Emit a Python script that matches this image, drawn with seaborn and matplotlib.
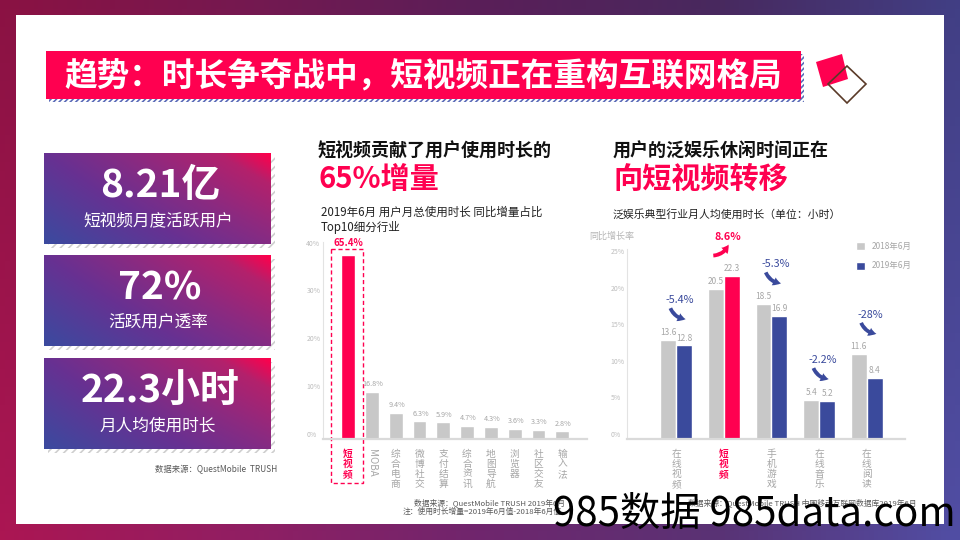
import numpy as np
import pandas as pd
import matplotlib.pyplot as plt
import seaborn as sns
from matplotlib.patches import Rectangle, Polygon
from matplotlib.colors import LinearSegmentedColormap

# 左图：2019年6月 用户月总使用时长 同比增量占比 Top10
share_cats = ['短视频', 'MOBA', '综合电商', '微博社交', '支付结算',
              '综合资讯', '地图导航', '浏览器', '社区交友', '输入法']
share_vals = [65.4, 16.8, 9.4, 6.3, 5.9, 4.7, 4.3, 3.6, 3.3, 2.8]
share_ticks = ['0%', '10%', '20%', '30%', '40%']

# 右图：泛娱乐典型行业月人均使用时长（小时）
ent_cats = ['在线视频', '短视频', '手机游戏', '在线音乐', '在线阅读']
hours_2018 = [13.6, 20.5, 18.5, 5.4, 11.6]
hours_2019 = [12.8, 22.3, 16.9, 5.2, 8.4]
growth = ['-5.4%', '8.6%', '-5.3%', '-2.2%', '-28%']
years = ['2018年6月', '2019年6月']
hour_ticks = ['0%', '5%', '10%', '15%', '20%', '25%']

# 左侧指标卡
kpi_values = ['8.21亿', '72%', '22.3小时']
kpi_names = ['短视频月度活跃用户', '活跃用户透率', '月人均使用时长']

RED = '#ff0050'
BLUE = '#3a4a9c'
GRAY = '#c8c8c8'
TXT_GRAY = '#a6a6a6'

sns.set_theme(style='white')
plt.rcParams['font.family'] = ['Noto Sans CJK SC', 'DejaVu Sans']
plt.rcParams['hatch.linewidth'] = 1.2

fig = plt.figure(figsize=(9.6, 5.4), dpi=100)

# 背景层（像素坐标）
bg = fig.add_axes([0, 0, 1, 1], zorder=0)
bg.axis('off')
bg_cmap = LinearSegmentedColormap.from_list(
    'bg', ['#a3154f', '#8a1d5e', '#6a2468', '#55306f', '#4d4a9c'])
img = bg_cmap(np.linspace(0, 1, 200))[None, :, :3].repeat(60, axis=0)
shade = np.linspace(0.85, 1.05, 60)[:, None, None]
img = np.clip(img * shade, 0, 1)
bg.imshow(img, extent=[0, 960, 540, 0], aspect='auto')
bg.add_patch(Rectangle((16, 15), 928, 509, fc='white', ec='none'))

# 标题横幅
bg.add_patch(Rectangle((49, 54), 755, 48, fill=False, hatch='//////',
                       ec='#5b6bb8', lw=0))
bg.add_patch(Rectangle((46, 51), 755, 48, fc=RED, ec='none'))
bg.text(64, 76, '趋势：时长争夺战中，短视频正在重构互联网格局', color='white',
        fontsize=23.5, fontweight='bold', va='center', ha='left')
bg.add_patch(Polygon([(816, 62), (842, 54), (848, 79), (823, 87)],
                     fc=RED, ec='none'))
bg.add_patch(Polygon([(847, 66), (866, 84), (847, 103), (828, 84)],
                     fill=False, ec='#5a3a28', lw=1.2))

# 指标卡
box_cmap = LinearSegmentedColormap.from_list(
    'box', [(0, '#3b4a9f'), (0.35, '#673192'), (0.6, '#8c2a80'),
            (0.85, '#b3216c'), (1, '#ff004c')])
gx, gy = np.meshgrid(np.linspace(0, 1, 120), np.linspace(0, 1, 60))
grad = box_cmap(np.clip(0.55 * gx + 0.35 * (1 - gy) + 0.1 * gx * (1 - gy), 0, 1))
tops = [153, 255, 358]
for top, val, name in zip(tops, kpi_values, kpi_names):
    h = 91
    bg.add_patch(Rectangle((48, top + 4), 227, h, fill=False, hatch='////',
                           ec='#cfcfcf', lw=0))
    bg.imshow(grad, extent=[44, 271, top + h, top], aspect='auto', zorder=2)
    bg.text(160, top + 33, val, color='white', fontsize=28, fontweight='bold',
            ha='center', va='center', zorder=3)
    bg.text(158, top + 68, name, color='white', fontsize=12,
            ha='center', va='center', zorder=3)
bg.text(277, 470, '数据来源：QuestMobile  TRUSH', fontsize=6, color='#595959',
        ha='right', va='center')

# 小标题
bg.text(318, 151, '短视频贡献了用户使用时长的', fontsize=13, fontweight='bold',
        color='#111111', va='center')
bg.text(318, 179, '65%增量', fontsize=21, fontweight='bold', color=RED, va='center')
bg.text(321, 220, '2019年6月 用户月总使用时长 同比增量占比\nTop10细分行业',
        fontsize=8.3, color='#222222', va='center', linespacing=1.15)
bg.text(613, 151, '用户的泛娱乐休闲时间正在', fontsize=13, fontweight='bold',
        color='#111111', va='center')
bg.text(613, 179, '向短视频转移', fontsize=21, fontweight='bold', color=RED, va='center')
bg.text(613, 214, '泛娱乐典型行业月人均使用时长（单位：小时）', fontsize=7.8,
        color='#222222', va='center')
bg.text(612, 236, '同比增长率', fontsize=6.5, color='#b5b5b5', ha='center', va='center')

# 短视频虚线框（放在图表下层，避免压住数值）
bg.add_patch(Rectangle((331, 249), 32, 234, fill=False, ls=(0, (3, 2)),
                       ec=RED, lw=1, zorder=3))

# 脚注
bg.text(414, 503, '数据来源：QuestMobile TRUSH 2019年6月', fontsize=5.6,
        color='#595959', va='center')
bg.text(403, 512, '注：使用时长增量=2019年6月值-2018年6月值', fontsize=5.6,
        color='#595959', va='center')
bg.text(688, 503, '数据来源：QuestMobile TRUSH 中国移动互联网数据库2019年6月',
        fontsize=5.6, color='#595959', va='center')
bg.set_xlim(0, 960)
bg.set_ylim(540, 0)


def style_axes(ax):
    ax.set_facecolor('none')
    for s in ['top', 'right']:
        ax.spines[s].set_visible(False)
    ax.spines['left'].set_color('#e3e3e3')
    ax.spines['left'].set_linewidth(0.8)
    ax.spines['bottom'].set_color('#dadada')
    ax.spines['bottom'].set_linewidth(1.6)
    ax.tick_params(axis='both', length=0)
    ax.tick_params(axis='y', labelsize=5, labelcolor='#bdbdbd', pad=12)
    for t in ax.get_yticklabels():
        t.set_verticalalignment('bottom')
        t.set_horizontalalignment('left')
    ax.set_xlabel('')
    ax.set_ylabel('')


# 左图
axL = fig.add_axes([323 / 960, 1 - 439 / 540, 264 / 960, 197 / 540], zorder=2)
sns.barplot(x=share_cats, y=share_vals, hue=share_cats,
            palette=[RED] + [GRAY] * (len(share_cats) - 1), legend=False,
            width=0.58, saturation=1, ax=axL)
axL.set_xlim(-1.05, 10.04)
axL.set_ylim(0, 70)
axL.set_yticks(np.linspace(0, 68, len(share_ticks)), share_ticks)
axL.set_xticks(range(len(share_cats)))
axL.set_xticklabels([c if c.isascii() else '\n'.join(c) for c in share_cats],
                    fontsize=7, color=TXT_GRAY, linespacing=1.0)
for lab, c in zip(axL.get_xticklabels(), share_cats):
    if c.isascii():
        lab.set_rotation(-90)
axL.get_xticklabels()[0].set_color(RED)
axL.get_xticklabels()[0].set_fontweight('bold')
axL.tick_params(axis='x', pad=7)
style_axes(axL)
for i, v in enumerate(share_vals):
    if i == 0:
        axL.text(i, 69.8, f'{v}%', color=RED, fontsize=7, fontweight='bold',
                 ha='center', va='center', clip_on=False,
                 bbox=dict(fc='white', ec='none', pad=0.3))
    else:
        axL.annotate(f'{v}%', xy=(i, v), xytext=(0.8, 2.5), textcoords='offset points',
                     ha='center', va='bottom', fontsize=5.2, color=TXT_GRAY)

# 右图
df = pd.DataFrame({'cat': ent_cats * 2,
                   'hours': hours_2018 + hours_2019,
                   'year': [years[0]] * len(ent_cats) + [years[1]] * len(ent_cats)})
axR = fig.add_axes([627 / 960, 1 - 439 / 540, 278 / 960, 190 / 540], zorder=2)
sns.barplot(data=df, x='cat', y='hours', hue='year', palette=[GRAY, BLUE],
            width=0.67, saturation=1, ax=axR)
axR.containers[1][ent_cats.index('短视频')].set_facecolor(RED)
axR.set_xlim(-1.03, 4.8)
axR.set_ylim(0, 26)
axR.set_yticks(np.arange(0, 26, 5), hour_ticks)
axR.set_xticks(range(len(ent_cats)))
axR.set_xticklabels(['\n'.join(c) for c in ent_cats], fontsize=7,
                    color=TXT_GRAY, linespacing=1.0)
axR.get_xticklabels()[1].set_color(RED)
axR.get_xticklabels()[1].set_fontweight('bold')
axR.tick_params(axis='x', pad=7)
style_axes(axR)
for cont in axR.containers:
    axR.bar_label(cont, fmt='%.1f', padding=2, fontsize=6, color=TXT_GRAY)
axR.legend(frameon=False, loc='upper left',
           bbox_to_anchor=(848 / 960, 1 - 234 / 540), bbox_transform=fig.transFigure,
           fontsize=6, labelcolor=TXT_GRAY, handlelength=1.1, handleheight=1.1,
           labelspacing=1.3, handletextpad=0.8)
for i, g in enumerate(growth):
    top = max(hours_2018[i], hours_2019[i])
    neg = g.startswith('-')
    col = BLUE if neg else RED
    axR.text(i + 0.08, top + 5.4, g, color=col, fontsize=7.8,
             fontweight='normal' if neg else 'bold',
             ha='center', va='center', clip_on=False)
    if neg:
        start, end = (i - 0.12, top + 4.3), (i + 0.2, top + 2.8)
    else:
        start, end = (i - 0.22, top + 2.8), (i + 0.1, top + 4.3)
    axR.annotate('', xy=end, xytext=start, annotation_clip=False,
                 arrowprops=dict(arrowstyle='simple,head_length=0.6,head_width=0.7,tail_width=0.3',
                                 connectionstyle='arc3,rad=0.3', fc=col, ec='none',
                                 mutation_scale=9, shrinkA=0, shrinkB=0))

# 顶层：水印
ov = fig.add_axes([0, 0, 1, 1], zorder=5)
ov.set_facecolor('none')
ov.axis('off')
ov.text(553, 514, '985数据 985data.com', fontsize=29, color='black',
        ha='left', va='center')
ov.set_xlim(0, 960)
ov.set_ylim(540, 0)

fig.savefig('out.png', dpi=100)
